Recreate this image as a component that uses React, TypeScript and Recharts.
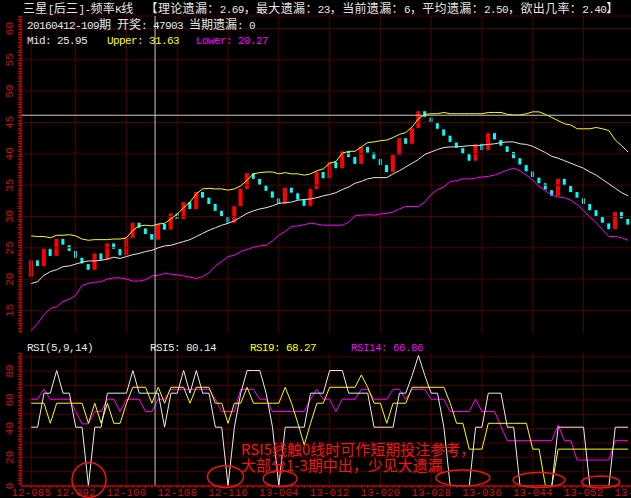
import React from 'react';
import { ComposedChart, Bar, Line, XAxis, YAxis, ReferenceLine, ReferenceDot } from 'recharts';

// frequency K line: open / close per period
const openVals = [
  20.4, 23.0, 22.1, 24.8, 23.7, 26.4, 25.4, 24.5, 23.4, 22.4,
  21.5, 24.1, 23.1, 25.7, 24.8, 23.8, 26.6, 29.0, 28.1, 27.2,
  26.3, 28.8, 27.9, 30.5, 29.6, 32.3, 31.2, 33.9, 33.0, 32.0,
  30.9, 29.9, 29.0, 31.65, 34.4, 36.9, 36.0, 35.0, 34.0, 32.9,
  32.0, 34.6, 33.7, 32.7, 31.7, 34.4, 37.1, 36.1, 38.7, 37.7,
  40.4, 39.5, 38.4, 41.1, 40.2, 39.2, 38.2, 37.1, 39.8, 42.5,
  41.6, 44.1, 46.8, 45.8, 44.9, 43.9, 42.9, 41.8, 40.9, 40.0,
  38.9, 41.6, 40.6, 43.3, 42.2, 41.2, 40.3, 39.3, 38.2, 37.2,
  36.2, 35.3, 34.2, 33.3, 36.0, 34.9, 33.9, 32.9, 32.0, 31.0,
  29.9, 28.9, 28.0, 30.7, 29.6,
];
const closeVals = [
  23.0, 22.1, 24.8, 23.7, 26.4, 25.5, 24.5, 23.4, 22.5, 21.5,
  24.1, 23.1, 25.7, 24.8, 23.8, 26.6, 29.0, 28.2, 27.2, 26.3,
  28.8, 27.9, 30.5, 29.6, 32.3, 31.2, 33.9, 33.0, 32.0, 30.9,
  29.95, 29.0, 31.65, 34.4, 36.9, 36.0, 35.05, 34.1, 33.0, 32.0,
  34.6, 33.8, 32.7, 31.7, 34.4, 37.1, 36.1, 38.7, 37.7, 40.4,
  39.5, 38.4, 41.1, 40.2, 39.2, 38.2, 37.1, 39.8, 42.5, 41.6,
  44.1, 46.8, 45.9, 44.9, 44.0, 42.9, 41.9, 41.0, 40.0, 38.9,
  41.6, 40.6, 43.3, 42.3, 41.3, 40.3, 39.3, 38.3, 37.2, 36.3,
  35.3, 34.3, 33.3, 36.0, 35.0, 33.9, 33.0, 32.0, 31.0, 29.95,
  29.0, 28.0, 30.7, 29.7, 28.7,
];
const midVals = [
  19.3, 19.6, 20.6, 21.2, 21.5, 22.0, 22.1, 22.4, 22.7, 22.9,
  22.9, 23.0, 23.2, 23.5, 23.3, 23.6, 23.9, 24.1, 24.4, 24.6,
  25.0, 25.3, 25.4, 25.7, 26.0, 26.3, 26.8, 27.3, 27.8, 28.2,
  28.6, 28.9, 29.3, 29.9, 30.5, 30.9, 31.2, 31.4, 31.7, 32.1,
  32.2, 32.3, 32.6, 32.7, 32.8, 33.0, 33.3, 33.5, 33.8, 34.3,
  34.7, 35.3, 35.6, 36.0, 36.2, 36.2, 36.2, 36.8, 37.3, 37.9,
  38.5, 39.1, 39.9, 40.3, 40.7, 41.0, 41.1, 41.1, 41.2, 41.3,
  41.3, 41.4, 41.5, 41.6, 41.8, 41.9, 41.9, 41.6, 41.5, 41.2,
  40.7, 40.2, 39.6, 39.3, 38.9, 38.5, 38.1, 37.7, 37.1, 36.6,
  35.9, 35.2, 34.5, 33.8, 33.3,
];
const upperVals = [
  26.9, 26.8, 26.8, 26.6, 27.0, 27.0, 27.1, 26.9, 26.4, 26.2,
  26.3, 26.3, 26.3, 26.4, 26.4, 26.6, 27.8, 28.5, 28.6, 28.5,
  28.8, 28.9, 29.6, 30.4, 31.4, 32.3, 33.6, 34.4, 34.5, 34.4,
  34.4, 34.2, 34.4, 34.9, 35.8, 36.8, 37.0, 37.1, 37.1, 36.8,
  37.0, 36.8, 36.8, 36.6, 36.8, 37.3, 37.6, 38.5, 38.8, 40.1,
  40.4, 40.4, 41.1, 41.8, 41.9, 42.1, 42.2, 42.6, 43.1, 43.4,
  44.3, 45.6, 46.3, 46.4, 46.4, 46.6, 46.4, 46.4, 46.4, 46.4,
  46.4, 46.4, 46.6, 46.6, 46.6, 46.3, 46.2, 46.2, 46.4, 46.7,
  46.7, 46.3, 45.8, 45.3, 44.8, 44.6, 44.0, 44.0, 44.0, 44.2,
  44.0, 43.7, 42.2, 41.3, 40.3,
];
const lowerVals = [
  11.8, 12.9, 14.3, 15.3, 15.6, 16.4, 16.8, 17.4, 19.0, 19.3,
  19.5, 19.6, 20.0, 20.2, 20.2, 20.0, 19.7, 19.7, 19.9, 20.5,
  20.6, 20.9, 20.8, 20.7, 20.5, 20.3, 20.1, 20.4, 21.0, 22.1,
  22.8, 23.6, 23.8, 24.4, 24.7, 25.1, 25.3, 25.4, 26.1, 27.0,
  27.6, 28.4, 28.5, 28.7, 28.9, 28.8, 28.6, 28.6, 28.6, 28.6,
  29.1, 30.1, 30.2, 30.3, 30.2, 30.4, 30.5, 30.7, 31.2, 31.6,
  31.6, 31.6, 32.3, 33.5, 34.3, 34.7, 35.6, 35.7, 36.0, 36.0,
  36.1, 36.3, 36.4, 36.6, 37.0, 37.4, 37.7, 37.3, 36.6, 35.8,
  34.8, 34.1, 33.4, 33.1, 33.0, 32.6, 31.9, 31.0, 29.9, 29.0,
  27.9, 26.8, 26.8, 26.6, 26.2,
];
const rsi5Vals = [
  41, 41, 64.7, 64.7, 80.5, 64.7, 64.7, 41, 41, 0,
  41, 41, 64.7, 64.7, 64.7, 64.7, 80.5, 64.7, 64.7, 64.7,
  64.7, 41, 64.7, 64.7, 80.5, 64.7, 80.5, 64.7, 64.7, 41,
  41, 0, 41, 64.7, 80.5, 80.5, 80.5, 64.7, 41, 0,
  41, 41, 41, 41, 64.7, 64.7, 64.7, 80.5, 80.5, 80.5,
  64.7, 64.7, 64.7, 64.7, 41, 41, 41, 41, 64.7, 64.7,
  77, 91, 77, 64.7, 64.7, 41, 0, 0, 0, 0,
  41, 41, 64.7, 64.7, 64.7, 41, 41, 0, 0, 0,
  0, 0, 0, 41, 41, 41, 41, 41, 0, 0,
  0, 0, 41, 41, 41,
];
const rsi9Vals = [
  57.7, 57.7, 57.7, 43.7, 57.7, 57.7, 57.7, 57.7, 57.7, 43.7,
  57.7, 43.7, 57.7, 43.7, 43.7, 57.7, 68.8, 68.8, 68.8, 57.7,
  68.8, 57.7, 68.8, 68.8, 68.8, 57.7, 68.8, 68.8, 68.8, 57.7,
  57.7, 43.7, 57.7, 57.7, 68.8, 57.7, 57.7, 57.7, 57.7, 57.7,
  68.8, 57.7, 43.7, 28.6, 43.7, 57.7, 57.7, 68.8, 68.8, 68.8,
  68.8, 68.8, 77.4, 68.8, 57.7, 57.7, 43.7, 57.7, 57.7, 57.7,
  68.8, 68.8, 68.8, 68.8, 68.8, 68.8, 57.7, 43.7, 43.7, 25.7,
  25.7, 25.7, 43.7, 43.7, 43.7, 43.7, 43.7, 43.7, 43.7, 25.7,
  25.7, 0, 0, 25.7, 25.7, 25.7, 25.7, 25.7, 25.7, 25.7,
  25.7, 25.7, 25.7, 25.7, 25.7,
];
const rsi14Vals = [
  60.5, 60.5, 67.4, 60.5, 60.5, 60.5, 60.5, 51.9, 43.3, 43.3,
  51.9, 51.9, 60.5, 60.5, 51.9, 60.5, 60.5, 60.5, 51.9, 51.9,
  60.5, 60.5, 67.4, 67.4, 67.4, 67.4, 67.4, 67.4, 67.4, 60.5,
  51.9, 51.9, 51.9, 67.4, 67.4, 67.4, 60.5, 60.5, 51.9, 51.9,
  51.9, 51.9, 51.9, 51.9, 60.5, 67.4, 60.5, 60.5, 51.9, 60.5,
  60.5, 60.5, 67.4, 67.4, 60.5, 60.5, 60.5, 67.4, 67.4, 60.5,
  67.4, 67.4, 67.4, 60.5, 60.5, 60.5, 51.9, 51.9, 51.9, 51.9,
  60.5, 51.9, 51.9, 51.9, 41.7, 31.6, 31.6, 31.6, 31.6, 31.6,
  31.6, 31.6, 31.6, 42.6, 31.6, 31.6, 18.1, 18.1, 18.1, 18.1,
  18.1, 18.1, 31.6, 31.6, 31.6,
];

const tickIndex = [0, 7, 15, 23, 31, 39, 47, 55, 63, 71, 79, 87, 95];
const tickLabels = ['12-085', '12-092', '12-100', '12-108', '12-116', '13-004', '13-012', '13-020', '13-028', '13-036', '13-044', '13-052', '13-060'];
const priceTicks = [15, 20, 25, 30, 35, 40, 45, 50, 55, 60];
const rsiTicks = [0, 20, 40, 60, 80];
const rsiGrid = [10, 20, 30, 40, 50, 60, 70, 80, 90];

// periods where RSI5 touched zero (annotation rings)
const zeroRings = [
  { i: 9.1, v: 4.2, rx: 17, ry: 17.5 },
  { i: 30.6, v: 6.5, rx: 18, ry: 11 },
  { i: 39.2, v: 5, rx: 17, ry: 8 },
  { i: 68, v: 5.6, rx: 27, ry: 8 },
  { i: 80, v: 4.2, rx: 26, ry: 7.5 },
  { i: 89.7, v: 2.8, rx: 19, ry: 6 },
];

const X_DOMAIN: [number, number] = [-1.62, 97];
const PRICE_DOMAIN: [number, number] = [11.4, 62];
const RSI_DOMAIN: [number, number] = [0, 92.7];
const CROSS_X = 19.5;
const CROSS_Y = 46.16;

const GRID = '#500000';
const AXIS = '#c80000';
const LABEL = '#c81414';
const CROSS = '#c8c8c8';

const minorTicks = Array.from({ length: 96 }, (_, i) => i);

const kData = openVals.map((o, i) => ({
  i,
  range: [Math.min(o, closeVals[i]), Math.max(o, closeVals[i])],
  up: closeVals[i] > o,
  mid: midVals[i],
  upper: upperVals[i],
  lower: lowerVals[i],
}));

const rsiData = rsi5Vals.map((v, i) => ({ i, r5: v, r9: rsi9Vals[i], r14: rsi14Vals[i] }));

const Candle = (p: any) => {
  const up = p.payload.up;
  const w = up ? 4 : 3;
  const top = Math.min(p.y, p.y + p.height);
  const h = Math.max(Math.abs(p.height), 1);
  return <rect x={p.x + (p.width - w) / 2} y={top} width={w} height={h} fill={up ? '#ff0000' : '#00ffff'} />;
};

const RotTick = (p: any) => (
  <text x={10} y={p.y} transform={`rotate(-90 10 ${p.y})`} textAnchor="middle" dominantBaseline="central"
    fill={LABEL} fontSize={11} fontFamily='"Liberation Mono", monospace'>
    {p.payload.value}
  </text>
);

const DateTick = (p: any) => {
  const k = tickIndex.indexOf(p.payload.value);
  if (k < 0) return <g />;
  return (
    <text x={p.x} y={p.y} dy={8} textAnchor="middle" fill={LABEL} fontSize={11} fontFamily='"Liberation Mono", monospace'>
      {tickLabels[k]}
    </text>
  );
};

const asciiStyle: React.CSSProperties = { fontFamily: '"Liberation Mono", monospace', fontSize: 11, letterSpacing: -0.6 };

function Mixed({ text }: { text: string }) {
  const parts = text.match(/[\x20-\x7e]+|[^\x20-\x7e]+/g) ?? [];
  return (
    <>
      {parts.map((s, k) =>
        /^[\x20-\x7e]/.test(s) ? <span key={k} style={asciiStyle}>{s}</span> : <span key={k}>{s}</span>
      )}
    </>
  );
}

function Txt({ x, y, color = '#e6e6e6', text, spacing = 0 }: { x: number; y: number; color?: string; text: string; spacing?: number }) {
  return (
    <div style={{ position: 'absolute', left: x, top: y, color, fontFamily: '"Noto Sans CJK SC", sans-serif', fontSize: 12, lineHeight: '14px', whiteSpace: 'pre', letterSpacing: spacing }}>
      <Mixed text={text} />
    </div>
  );
}

const tickStrip = (top: number, height: number): React.CSSProperties => ({
  position: 'absolute', left: 18, top, width: 3, height,
  background: `repeating-linear-gradient(to bottom, ${AXIS} 0px, ${AXIS} 1px, transparent 1px, transparent 2.6px)`,
});

export default function App() {
  return (
    <div style={{ position: 'absolute', left: 0, top: 0, width: 631, height: 498, overflow: 'hidden', background: '#000' }}>
      <div style={{ position: 'absolute', left: 0, top: 0 }}>
        <ComposedChart width={647} height={333} data={kData} margin={{ top: 16, right: 0, bottom: 0, left: 0 }}>
          {priceTicks.map((v) => <ReferenceLine key={'h' + v} y={v} stroke={GRID} />)}
          <ReferenceLine y={PRICE_DOMAIN[1]} stroke={GRID} />
          {tickIndex.map((t) => <ReferenceLine key={'v' + t} x={t} stroke={GRID} />)}
          <XAxis type="number" dataKey="i" domain={X_DOMAIN} ticks={minorTicks} hide allowDataOverflow />
          <YAxis type="number" domain={PRICE_DOMAIN} ticks={priceTicks} width={21} interval={0} allowDataOverflow
            axisLine={{ stroke: AXIS, strokeWidth: 1.5 }} tickLine={false} tick={<RotTick />} />
          <Bar dataKey="range" barSize={4} shape={<Candle />} isAnimationActive={false} />
          <Line type="linear" dataKey="lower" stroke="#ff00ff" strokeWidth={1} dot={false} isAnimationActive={false} />
          <Line type="linear" dataKey="mid" stroke="#e6e6e6" strokeWidth={1} dot={false} isAnimationActive={false} />
          <Line type="linear" dataKey="upper" stroke="#ffff00" strokeWidth={1} dot={false} isAnimationActive={false} />
          <ReferenceLine y={CROSS_Y} stroke={CROSS} />
          <ReferenceLine x={CROSS_X} stroke={CROSS} />
        </ComposedChart>
      </div>
      <div style={{ position: 'absolute', left: 0, top: 333 }}>
        <ComposedChart width={647} height={165} data={rsiData} margin={{ top: 20, right: 0, bottom: 0, left: 0 }}>
          {rsiGrid.map((v) => <ReferenceLine key={'h' + v} y={v} stroke={GRID} />)}
          {tickIndex.map((t) => <ReferenceLine key={'v' + t} x={t} stroke={GRID} />)}
          <XAxis type="number" dataKey="i" domain={X_DOMAIN} ticks={minorTicks} interval={0} height={12} allowDataOverflow
            axisLine={{ stroke: AXIS, strokeWidth: 1.5 }} tickLine={{ stroke: AXIS }} tickSize={2} tickMargin={0} tick={<DateTick />} />
          <YAxis type="number" domain={RSI_DOMAIN} ticks={rsiTicks} width={21} interval={0} allowDataOverflow
            axisLine={{ stroke: AXIS, strokeWidth: 1.5 }} tickLine={false} tick={<RotTick />} />
          <Line type="linear" dataKey="r14" stroke="#ff00ff" strokeWidth={1} dot={false} isAnimationActive={false} />
          <Line type="linear" dataKey="r9" stroke="#ffff00" strokeWidth={1} dot={false} isAnimationActive={false} />
          <Line type="linear" dataKey="r5" stroke="#ececec" strokeWidth={1} dot={false} isAnimationActive={false} />
          <ReferenceLine segment={[{ x: CROSS_X, y: 0 }, { x: CROSS_X, y: 107 }]} ifOverflow="visible" stroke={CROSS} />
          {zeroRings.map((r, k) => (
            <ReferenceDot key={k} x={r.i} y={r.v} r={r.rx} ifOverflow="visible"
              shape={(p: any) => <ellipse cx={p.cx} cy={p.cy} rx={r.rx} ry={r.ry} fill="none" stroke="#e81818" strokeWidth={1.5} />} />
          ))}
        </ComposedChart>
      </div>

      <div style={tickStrip(16, 317)} />
      <div style={tickStrip(353, 133)} />

      <Txt x={23} y={1} spacing={0.35} text="三星[后三]-频率K线  【理论遗漏：2.69，最大遗漏：23，当前遗漏：6，平均遗漏：2.50，欲出几率：2.40】" />
      <Txt x={27} y={17} text="20160412-109期 开奖: 47903 当期遗漏: 0" />
      <Txt x={27} y={32} text="Mid: 25.95" />
      <Txt x={107} y={32} color="#ffff00" text="Upper: 31.63" />
      <Txt x={196} y={32} color="#ff00ff" text="Lower: 20.27" />

      <Txt x={27} y={339} text="RSI(5,9,14)" />
      <Txt x={150} y={339} text="RSI5: 80.14" />
      <Txt x={250} y={339} color="#ffff00" text="RSI9: 68.27" />
      <Txt x={351} y={339} color="#ff00ff" text="RSI14: 66.86" />

      <div style={{ position: 'absolute', left: 241, top: 441, color: '#ff1010', fontFamily: '"Noto Sans CJK SC", sans-serif', fontSize: 15, lineHeight: '16px', whiteSpace: 'pre' }}>
        {'RSI5线触0线时可作短期投注参考，\n大部分1-3期中出，少见大遗漏'}
      </div>
    </div>
  );
}
